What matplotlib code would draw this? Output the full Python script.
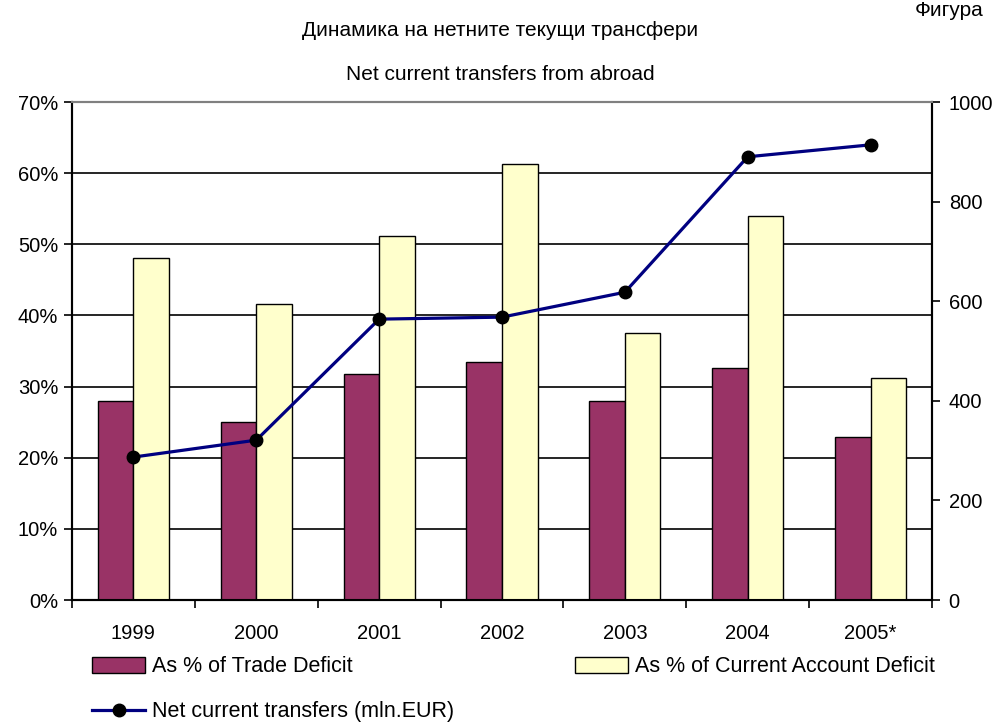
import matplotlib
matplotlib.use('Agg')
from matplotlib import pyplot as plt
import numpy as np

plt.rcParams['font.family'] = ['Liberation Sans', 'DejaVu Sans']

years = ['1999', '2000', '2001', '2002', '2003', '2004', '2005*']
trade_pct = [28.0, 25.0, 31.8, 33.4, 28.0, 32.6, 22.9]
ca_pct = [48.1, 41.6, 51.2, 61.3, 37.5, 54.0, 31.2]
net_transfers = [287, 321, 564, 568, 618, 890, 914]

title_bg = 'Динамика на нетните текущи трансфери'
title_en = 'Net current transfers from abroad'

fig = plt.figure(figsize=(9.97, 7.23), dpi=100)
ax = fig.add_axes([72/997, 1-600/723, 860/997, 498/723])
ax2 = ax.twinx()

x = np.arange(len(years))
w = 0.29
b1 = ax.bar(x - w/2, trade_pct, w, color='#993366', edgecolor='black', linewidth=1,
            label='As % of Trade Deficit', zorder=3)
b2 = ax.bar(x + w/2, ca_pct, w, color='#ffffcc', edgecolor='black', linewidth=1,
            label='As % of Current Account Deficit', zorder=3)
ln, = ax2.plot(x, net_transfers, color='#000080', linewidth=2.3, marker='o',
               markersize=9, markerfacecolor='black', markeredgecolor='black',
               label='Net current transfers (mln.EUR)', zorder=4)

ax.set_xlim(-0.5, len(years) - 0.5)
ax.set_ylim(0, 70)
ax2.set_ylim(0, 1000)
ax.set_yticks(np.arange(0, 71, 10))
ax.set_yticklabels(['{}%'.format(v) for v in range(0, 71, 10)])
ax2.set_yticks(np.arange(0, 1001, 200))
for v in range(10, 70, 10):
    ax.axhline(v, color='black', linewidth=1.2, zorder=1)

ax.set_xticks(np.arange(-0.5, len(years), 1))
ax.set_xticklabels([])
ax.set_xticks(x, minor=True)
ax.set_xticklabels(years, minor=True)
ax.tick_params(axis='x', which='major', direction='out', length=6, width=1.2)
ax.tick_params(axis='x', which='minor', length=0, pad=17, labelsize=14.5)
ax.tick_params(axis='y', direction='out', length=6, width=1.2, labelsize=14.5, pad=4)
ax2.tick_params(axis='y', direction='out', length=6, width=1.2, labelsize=14.5, pad=6)

for a in (ax, ax2):
    a.spines['top'].set_color('#808080')
    a.spines['top'].set_linewidth(1.5)
    a.spines['left'].set_linewidth(1.5)
    a.spines['right'].set_linewidth(1.5)
    a.spines['bottom'].set_linewidth(1.5)

fig.text(500/997, 1-31/723, title_bg, ha='center', va='center', fontsize=15)
fig.text(500/997, 1-75/723, title_en, ha='center', va='center', fontsize=15)
fig.text(915/997, 1-1/723, 'Фигура', ha='left', va='top', fontsize=15)

fig.legend([b1, ln, b2], ['As % of Trade Deficit', 'Net current transfers (mln.EUR)',
                          'As % of Current Account Deficit'],
           ncol=2, loc='upper left', bbox_to_anchor=(73/997, 1-637/723),
           frameon=False, fontsize=15.5, handlelength=2.46, handleheight=0.72,
           columnspacing=5.6, labelspacing=1.12, handletextpad=0.33)

fig.savefig('out.png', dpi=100)
